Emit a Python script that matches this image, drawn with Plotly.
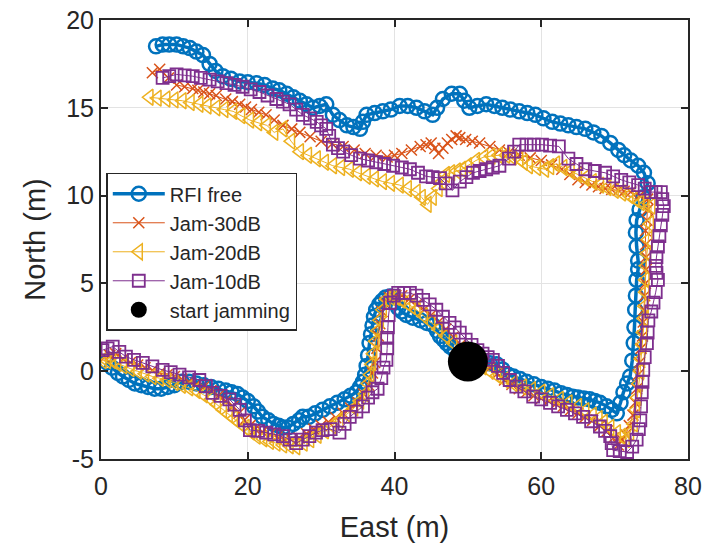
import plotly.graph_objects as go

# ---- data (East, North in metres) ----
rfi_pts = [(0.8,0.5),(1.5,0.2),(2.3,-0.1),(3.0,-0.3),(3.8,-0.5),(4.6,-0.7),(5.5,-0.8),(6.4,-0.9),(7.3,-1.0),(8.2,-1.0),(9.1,-0.9),(10.0,-0.8),(11.0,-0.6),(12.0,-0.6),(13.0,-0.7),(14.0,-0.8),(15.0,-0.9),(16.0,-1.0),(17.0,-1.1),(17.8,-1.2),(18.6,-1.3),(19.3,-1.5),(20.0,-1.7),(20.8,-2.0),(21.4,-2.3),(22.0,-2.6),(22.8,-2.8),(23.5,-3.0),(24.2,-3.1),(24.8,-3.2),(25.5,-3.2),(26.2,-3.0),(27.0,-2.8),(27.5,-2.6),(28.3,-2.6),(29.2,-2.4),(30.2,-2.2),(31.2,-2.0),(32.2,-1.8),(33.2,-1.6),(34.0,-1.4),(34.8,-1.2),(35.3,-0.9),(35.7,-0.6),(36.0,-0.2),(36.2,0.3),(36.4,0.9),(36.6,1.6),(36.8,2.1),(37.0,2.6),(37.2,3.1),(37.5,3.5),(37.9,3.8),(38.3,4.0),(38.8,4.2),(39.4,4.25),(40.0,3.9),(40.5,3.6),(41.0,3.4),(41.6,3.2),(42.5,3.05),(43.5,2.9),(44.4,2.75),(45.3,2.6),(45.8,2.3),(46.2,2.0),(46.7,1.8),(47.1,1.6),(47.6,1.4),(48.2,1.2),(49.0,0.9),(50.0,0.6),(51.0,0.55),(52.0,0.5),(53.0,0.45),(53.9,0.4),(54.7,0.1),(55.5,-0.2),(56.2,-0.3),(57.1,-0.45),(58.0,-0.6),(59.0,-0.75),(60.0,-0.9),(60.9,-1.0),(61.8,-1.1),(62.7,-1.25),(63.5,-1.35),(64.3,-1.45),(65.0,-1.5),(65.8,-1.55),(66.6,-1.6),(67.3,-1.7),(68.0,-1.8),(68.9,-2.0),(69.6,-2.2),(70.3,-2.4),(70.8,-1.8),(71.2,-1.2),(71.7,-0.7),(72.1,-0.3),(72.4,0.6),(72.6,1.6),(72.7,2.5),(72.8,3.5),(72.9,4.3),(73.0,5.2),(73.2,5.8),(73.2,6.3),(73.0,7.1),(72.9,7.9),(73.0,8.6),(73.4,9.2),(73.9,9.9),(74.5,10.7),(74.0,11.3),(73.2,11.7),(72.2,12.0),(71.3,12.3),(70.5,12.6),(69.4,13.0),(68.2,13.4),(67.1,13.6),(66.0,13.8),(64.8,13.9),(63.7,14.0),(62.6,14.1),(61.5,14.2),(60.3,14.4),(59.2,14.6),(58.1,14.7),(57.0,14.8),(55.8,14.9),(54.7,15.0),(53.6,15.1),(52.5,15.2),(51.3,15.1),(50.2,15.0),(49.5,15.4),(48.9,15.8),(47.8,15.8),(46.6,15.5),(45.8,15.0),(45.2,14.6),(44.1,14.8),(43.0,15.0),(41.8,15.1),(40.7,15.1),(39.5,14.9),(38.4,14.8),(37.3,14.7),(36.2,14.6),(35.7,14.2),(35.3,13.8),(34.4,13.9),(33.5,14.0),(32.5,14.3),(31.6,14.6),(30.7,15.2),(29.8,15.1),(28.9,15.0),(28.0,15.2),(27.1,15.4),(26.2,15.6),(25.3,15.8),(24.3,16.0),(23.4,16.1),(22.3,16.3),(21.2,16.4),(20.0,16.45),(18.9,16.5),(17.7,16.65),(16.6,16.8),(15.6,17.1),(14.8,17.5),(13.9,18.0),(13.0,18.2),(12.1,18.4),(11.2,18.5),(10.3,18.6),(9.3,18.6),(8.4,18.6),(7.5,18.5)]

j30_pts = [(0.5,0.8),(1.2,0.9),(2.0,1.0),(3.0,0.7),(4.0,0.5),(5.0,0.35),(6.0,0.2),(7.0,0.05),(8.0,-0.1),(9.0,-0.2),(10.0,-0.3),(11.0,-0.45),(12.0,-0.6),(13.0,-0.75),(14.0,-0.9),(15.0,-1.1),(16.0,-1.4),(17.0,-1.7),(18.0,-2.0),(18.8,-2.4),(19.5,-2.8),(20.3,-3.1),(21.0,-3.3),(22.0,-3.45),(23.0,-3.6),(24.0,-3.75),(25.0,-3.9),(26.0,-3.9),(27.0,-3.8),(28.0,-3.55),(29.0,-3.3),(30.0,-3.1),(31.0,-2.9),(32.0,-2.65),(33.0,-2.4),(34.0,-2.1),(35.0,-1.8),(35.8,-1.3),(36.5,-0.8),(37.0,-0.1),(37.3,0.5),(37.6,1.3),(37.8,2.0),(38.0,2.7),(38.3,3.4),(38.7,3.9),(39.3,4.2),(40.2,4.3),(41.0,4.3),(42.0,4.1),(43.0,3.8),(44.0,3.5),(45.0,3.2),(46.0,2.8),(47.0,2.4),(48.0,1.95),(49.0,1.5),(50.0,1.15),(51.0,0.8),(52.0,0.5),(53.0,0.2),(54.0,-0.15),(55.0,-0.5),(56.0,-0.75),(57.0,-1.0),(58.0,-1.2),(59.0,-1.4),(60.0,-1.55),(61.0,-1.7),(62.0,-1.85),(63.0,-2.0),(64.0,-2.2),(65.0,-2.4),(66.0,-2.6),(67.0,-2.8),(68.0,-3.1),(69.0,-3.4),(69.8,-3.8),(70.5,-4.2),(71.0,-3.9),(71.5,-3.6),(72.0,-3.1),(72.5,-2.5),(72.8,-1.8),(73.0,-1.0),(73.2,-0.2),(73.4,0.5),(73.6,1.3),(73.8,2.0),(73.9,2.8),(74.0,3.5),(74.1,4.3),(74.2,5.0),(74.3,5.8),(74.3,6.5),(74.2,7.2),(74.2,8.0),(74.4,8.6),(74.5,9.2),(74.5,9.8),(73.4,10.0),(72.2,10.2),(71.3,10.25),(70.5,10.3),(69.6,10.35),(68.7,10.4),(67.8,10.5),(66.9,10.6),(66.0,10.75),(65.0,10.9),(63.9,11.2),(62.8,11.5),(61.4,11.75),(60.0,12.0),(58.5,12.15),(57.0,12.3),(55.6,12.45),(54.3,12.6),(53.0,12.8),(51.6,13.0),(50.6,13.1),(49.7,13.2),(48.9,13.3),(48.4,13.4),(47.8,13.2),(47.2,13.0),(46.6,12.7),(46.0,12.4),(45.5,12.7),(45.0,13.0),(44.3,12.9),(43.5,12.8),(42.3,12.6),(41.0,12.4),(40.0,12.3),(39.0,12.2),(37.5,12.3),(36.0,12.4),(34.5,12.6),(33.0,12.8),(31.5,12.95),(30.0,13.1),(28.5,13.35),(27.1,13.6),(26.0,13.8),(24.8,14.0),(23.6,14.3),(22.5,14.6),(21.5,14.75),(20.5,14.9),(19.7,15.05),(18.9,15.2),(17.9,15.35),(17.0,15.5),(15.7,15.7),(14.8,15.8),(14.0,15.9),(13.2,16.0),(12.5,16.1),(11.4,16.2),(10.3,16.3),(9.2,16.7),(8.0,17.2),(7.0,17.0)]

j20_pts = [(0.2,0.6),(0.8,0.6),(1.5,0.6),(2.2,0.45),(3.0,0.3),(4.0,0.15),(5.0,0.0),(6.0,-0.15),(7.0,-0.3),(8.0,-0.4),(9.0,-0.5),(10.0,-0.65),(11.0,-0.8),(12.0,-0.95),(13.0,-1.1),(14.0,-1.35),(15.0,-1.6),(15.8,-1.9),(16.6,-2.2),(17.4,-2.45),(18.1,-2.7),(18.9,-2.95),(19.7,-3.2),(20.4,-3.45),(21.2,-3.7),(22.1,-3.85),(23.0,-4.0),(23.9,-4.1),(24.8,-4.2),(25.7,-4.25),(26.6,-4.3),(27.6,-4.1),(28.5,-3.9),(29.5,-3.65),(30.5,-3.4),(31.5,-3.1),(32.5,-2.8),(33.5,-2.45),(34.5,-2.1),(35.3,-1.7),(36.0,-1.3),(36.4,-0.7),(36.7,-0.2),(36.9,0.4),(37.1,1.0),(37.4,1.7),(37.7,2.3),(38.0,2.9),(38.4,3.5),(38.9,4.1),(39.5,4.2),(40.2,4.2),(40.9,4.05),(41.6,3.9),(42.3,3.7),(43.0,3.5),(44.0,3.15),(45.0,2.8),(46.0,2.4),(47.0,2.0),(48.0,1.6),(49.0,1.2),(50.0,0.85),(51.0,0.5),(52.0,0.25),(53.0,0.0),(54.0,-0.25),(55.0,-0.5),(56.2,-0.7),(57.5,-0.9),(58.7,-1.05),(60.0,-1.2),(61.2,-1.4),(62.5,-1.6),(63.7,-1.8),(65.0,-2.0),(66.0,-2.25),(67.0,-2.5),(67.8,-2.7),(68.5,-2.9),(69.4,-3.2),(70.3,-3.5),(71.0,-3.7),(71.5,-3.9),(72.1,-3.5),(72.6,-3.0),(72.9,-2.2),(73.1,-1.5),(73.3,-0.7),(73.5,0.0),(73.6,0.7),(73.8,1.5),(73.9,2.2),(74.0,3.0),(74.1,3.7),(74.2,4.5),(74.2,5.2),(74.3,6.0),(74.4,6.7),(74.6,7.5),(74.8,8.4),(75.0,9.4),(74.2,9.5),(73.5,9.6),(72.8,9.8),(72.0,10.0),(71.0,10.15),(70.0,10.3),(69.0,10.45),(68.0,10.6),(67.0,10.8),(66.0,11.0),(65.0,11.2),(64.0,11.4),(63.0,11.6),(62.0,11.8),(61.2,11.65),(60.5,11.5),(59.4,11.6),(58.3,11.7),(57.6,11.9),(57.0,12.1),(56.1,12.2),(55.2,12.3),(54.2,12.3),(53.2,12.25),(52.2,12.2),(51.1,12.0),(50.0,11.7),(49.2,11.5),(48.5,11.4),(47.7,11.3),(47.0,11.2),(46.5,10.8),(46.0,10.4),(45.2,9.9),(44.5,9.5),(43.7,9.9),(43.0,10.2),(41.8,10.4),(40.7,10.6),(39.5,10.7),(38.4,10.8),(37.3,10.95),(36.2,11.1),(35.0,11.3),(33.9,11.5),(32.7,11.6),(31.6,11.7),(30.5,11.9),(29.4,12.1),(28.2,12.3),(27.1,12.5),(25.9,13.1),(24.8,13.8),(23.6,13.6),(22.6,14.0),(21.4,14.15),(20.3,14.3),(19.1,14.55),(18.0,14.8),(16.8,14.9),(15.7,15.0),(14.5,15.1),(13.4,15.2),(12.2,15.3),(11.1,15.4),(10.0,15.45),(8.9,15.5),(7.7,15.55),(6.6,15.6)]

j10_pts = [(0.2,1.2),(0.9,1.3),(1.6,1.4),(2.5,1.1),(3.4,0.83),(4.5,0.65),(5.7,0.47),(7.0,0.27),(8.4,0.07),(9.5,-0.05),(10.7,-0.2),(12.0,-0.35),(13.4,-0.5),(14.3,-0.85),(15.2,-1.23),(16.3,-1.4),(17.5,-1.6),(18.2,-1.9),(18.9,-2.2),(19.6,-2.8),(20.3,-3.35),(21.4,-3.4),(22.5,-3.5),(23.6,-3.6),(24.8,-3.7),(25.7,-3.9),(26.6,-4.1),(27.5,-3.9),(28.4,-3.7),(29.3,-3.5),(30.2,-3.35),(31.3,-3.3),(32.5,-3.5),(33.2,-3.0),(33.9,-2.6),(34.8,-2.3),(35.7,-2.0),(36.4,-1.5),(37.0,-1.2),(37.7,-1.0),(38.2,-0.4),(38.5,0.2),(38.9,0.65),(39.0,1.3),(39.0,1.9),(39.1,2.5),(39.2,3.2),(39.4,3.9),(39.9,4.3),(40.5,4.46),(41.3,4.46),(42.1,4.46),(43.0,4.3),(43.9,4.06),(44.8,3.8),(45.7,3.5),(46.6,3.1),(47.5,2.75),(48.2,2.5),(48.9,2.2),(49.7,1.8),(50.5,1.5),(51.3,1.2),(52.0,1.0),(52.7,0.8),(53.4,0.65),(54.1,0.3),(54.8,-0.1),(55.7,-0.5),(56.6,-0.88),(57.7,-1.15),(58.9,-1.45),(60.0,-1.6),(61.2,-1.8),(62.3,-2.0),(63.5,-2.2),(64.6,-2.4),(65.7,-2.6),(66.8,-2.85),(68.0,-3.15),(68.7,-3.4),(69.4,-3.7),(69.6,-4.1),(69.8,-4.5),(70.7,-4.55),(71.7,-4.6),(72.4,-4.3),(73.0,-3.9),(73.3,-3.3),(73.5,-2.8),(73.6,-2.0),(73.7,-1.2),(73.8,-0.6),(73.9,0.07),(74.1,0.8),(74.4,1.6),(74.5,2.2),(74.6,2.9),(75.0,3.4),(75.3,3.9),(75.6,4.5),(75.9,5.2),(75.7,5.6),(75.6,6.0),(75.7,6.5),(75.9,7.1),(76.1,7.7),(76.3,8.3),(76.5,8.9),(76.7,9.4),(76.5,9.8),(76.3,10.2),(75.6,10.2),(75.0,10.2),(74.1,10.4),(73.2,10.6),(72.0,10.75),(70.9,10.9),(69.8,11.1),(68.7,11.3),(67.3,11.4),(66.0,11.5),(64.8,11.8),(63.7,12.1),(62.4,12.8),(61.2,12.85),(60.1,12.9),(59.0,12.9),(58.0,12.9),(57.0,12.9),(56.3,12.5),(55.6,12.1),(54.3,11.7),(53.4,11.6),(52.5,11.5),(51.6,11.4),(50.7,11.3),(49.8,11.05),(48.9,10.8),(47.9,10.3),(47.0,10.7),(46.2,11.0),(45.2,11.05),(44.3,11.1),(43.2,11.3),(42.1,11.5),(41.0,11.6),(39.8,11.7),(38.6,11.8),(37.5,11.9),(36.4,12.0),(35.3,12.1),(34.1,12.3),(33.0,12.5),(32.3,12.7),(31.6,12.9),(31.1,13.4),(30.7,13.8),(30.0,14.0),(29.4,14.2),(28.5,14.4),(27.5,14.6),(26.6,14.9),(25.7,15.2),(24.8,15.35),(23.9,15.5),(22.7,15.7),(21.6,15.9),(20.4,16.05),(19.3,16.2),(18.2,16.3),(17.1,16.4),(15.9,16.5),(14.8,16.6),(13.6,16.7),(12.5,16.8),(11.4,16.85),(10.3,16.9),(9.3,16.8),(8.4,16.7)]

jam_x = [50.0]
jam_y = [0.55]

names = ["RFI free", "Jam-30dB", "Jam-20dB", "Jam-10dB", "start jamming"]
x_ticks = [0, 20, 40, 60, 80]
x_tick_labels = ["0", "20", "40", "60", "80"]
y_ticks = [-5, 0, 5, 10, 15, 20]
y_tick_labels = ["-5", "0", "5", "10", "15", "20"]

BLUE = "#0072BD"
ORANGE = "#D95319"
YELLOW = "#EDB120"
PURPLE = "#7E2F8E"
FONT = "Arial, Liberation Sans, sans-serif"
INK = "#262626"


def xs(pts):
    return [p[0] for p in pts]


def ys(pts):
    return [p[1] for p in pts]


fig = go.Figure()
fig.add_trace(go.Scatter(x=xs(rfi_pts), y=ys(rfi_pts), name=names[0], mode="lines+markers",
                         line=dict(color=BLUE, width=3.5),
                         marker=dict(symbol="circle-open", size=14, color=BLUE, line=dict(width=2.5, color=BLUE))))
fig.add_trace(go.Scatter(x=xs(j30_pts), y=ys(j30_pts), name=names[1], mode="lines+markers",
                         line=dict(color=ORANGE, width=1),
                         marker=dict(symbol="x-thin-open", size=11, color=ORANGE, line=dict(width=1.5, color=ORANGE))))
fig.add_trace(go.Scatter(x=xs(j20_pts), y=ys(j20_pts), name=names[2], mode="lines+markers",
                         line=dict(color=YELLOW, width=1),
                         marker=dict(symbol="triangle-left-open", size=14, color=YELLOW, line=dict(width=1.5, color=YELLOW))))
fig.add_trace(go.Scatter(x=xs(j10_pts), y=ys(j10_pts), name=names[3], mode="lines+markers",
                         line=dict(color=PURPLE, width=1),
                         marker=dict(symbol="square-open", size=12, color=PURPLE, line=dict(width=1.8, color=PURPLE))))
fig.add_trace(go.Scatter(x=jam_x, y=jam_y, name=names[4], mode="markers",
                         marker=dict(symbol="circle", size=40, color="black")))

axis_common = dict(
    showgrid=True, gridcolor="#e3e3e3", gridwidth=1, automargin=False,
    zeroline=False, showline=True, linecolor=INK, linewidth=2,
    mirror="ticks", ticks="inside", ticklen=7, tickwidth=1.5, tickcolor=INK,
    ticklabeloverflow="allow",
    tickfont=dict(family=FONT, size=25, color=INK),
)
fig.update_xaxes(range=[0, 80], tickvals=x_ticks, ticktext=x_tick_labels, ticklabelstandoff=4,
                 title=dict(text="East (m)", font=dict(family=FONT, size=29, color=INK), standoff=18),
                 **axis_common)
fig.update_yaxes(range=[-5, 20], tickvals=y_ticks, ticktext=y_tick_labels,
                 title=dict(text="North (m)", font=dict(family=FONT, size=29, color=INK), standoff=12),
                 **axis_common)

fig.update_layout(
    width=716, height=544,
    margin=dict(l=101, r=28, t=20, b=85),
    paper_bgcolor="white", plot_bgcolor="white",
    showlegend=True,
    legend=dict(x=0.009, y=0.652, xanchor="left", yanchor="top",
                bgcolor="white", bordercolor=INK, borderwidth=1.5,
                font=dict(family=FONT, size=20, color=INK),
                itemsizing="trace", itemwidth=52, tracegroupgap=0),
)

# remove the browser's default 8 px body margin so the figure fills the window exactly
fig.write_html("out.html", config={"displayModeBar": False},
               post_script="document.body.style.margin='0';document.body.style.overflow='hidden';")
